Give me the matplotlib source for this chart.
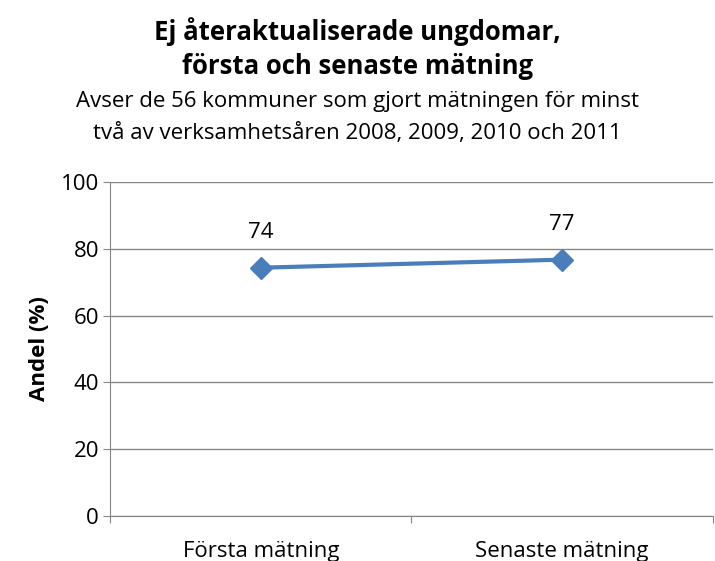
import matplotlib.pyplot as plt

categories = ["Första mätning", "Senaste mätning"]
values = [74.3, 76.7]
labels = ["74", "77"]
yticks = [0, 20, 40, 60, 80, 100]
title_lines = ["Ej återaktualiserade ungdomar,", "första och senaste mätning"]
subtitle_lines = ["Avser de 56 kommuner som gjort mätningen för minst",
                  "två av verksamhetsåren 2008, 2009, 2010 och 2011"]

plt.rcParams['font.family'] = ['Open Sans', 'DejaVu Sans']

W, H = 715, 561
fig = plt.figure(figsize=(W / 100, H / 100), dpi=100)
ax = fig.add_axes([0.154, 0.080, 0.843, 0.596])

grid_c = '#868686'
line_c = '#4A7EBB'

x = list(range(len(categories)))
ax.plot(x, values, color=line_c, lw=3, marker='D', markersize=11, zorder=3)
for xi, v, lab in zip(x, values, labels):
    ax.annotate(lab, (xi, v), xytext=(0, 18), textcoords='offset points',
                ha='center', va='bottom', fontsize=16)

ax.set_xlim(-0.5, len(categories) - 0.5)
ax.set_ylim(0, 100)
ax.set_yticks(yticks)
ax.tick_params(axis='y', labelsize=16, length=5, color=grid_c, pad=3)
ax.yaxis.grid(True, color=grid_c, lw=1)
ax.set_axisbelow(True)

# category labels centred, tick marks on the boundaries
ax.set_xticks([i - 0.5 for i in range(len(categories) + 1)])
ax.set_xticklabels([])
ax.set_xticks(x, minor=True)
ax.set_xticklabels(categories, minor=True, fontsize=16)
ax.tick_params(axis='x', which='major', length=5, color=grid_c, direction='out')
ax.tick_params(axis='x', which='minor', length=0, pad=18)

for s in ['top', 'right']:
    ax.spines[s].set_visible(False)
for s in ['left', 'bottom']:
    ax.spines[s].set_color(grid_c)

ax.set_ylabel("Andel (%)", fontsize=16, fontweight='bold', labelpad=8)

for line, yp in zip(title_lines, [32, 67]):
    fig.text(0.5, 1 - yp / H, line, ha='center', va='center',
             fontsize=18.5, fontweight='bold')
for line, yp in zip(subtitle_lines, [101, 133]):
    fig.text(0.5, 1 - yp / H, line, ha='center', va='center', fontsize=16)

fig.savefig("out.png", dpi=100)
